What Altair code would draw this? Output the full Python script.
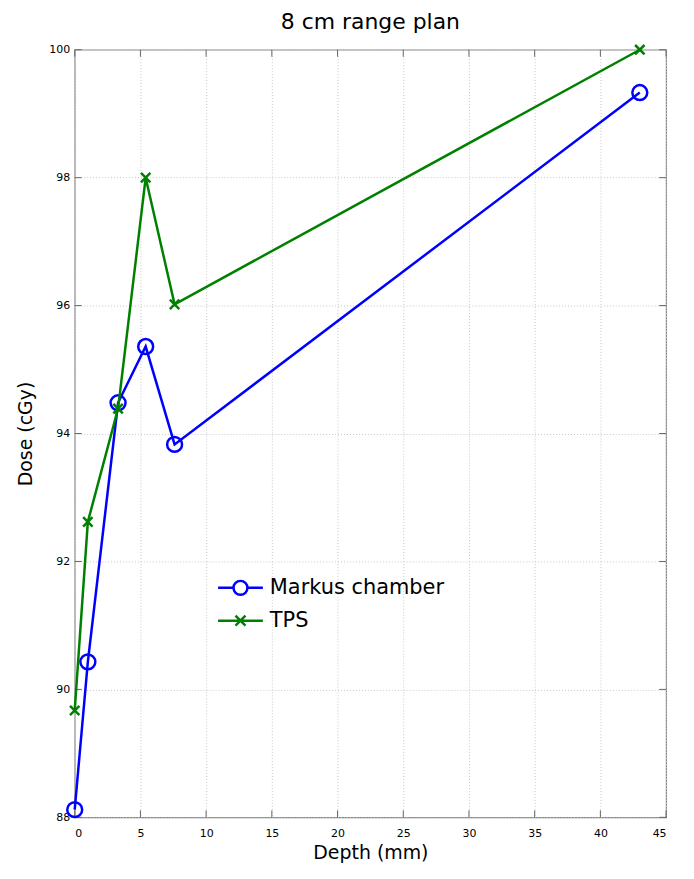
import altair as alt
import pandas as pd

# ---- data ----
series_names = ["Markus chamber", "TPS"]
depth_markus = [0.0, 1.0, 3.3, 5.4, 7.6, 43.0]
dose_markus = [88.12, 90.43, 94.48, 95.36, 93.83, 99.33]
depth_tps = [0.0, 1.0, 3.3, 5.4, 7.6, 43.0]
dose_tps = [89.67, 92.62, 94.39, 98.0, 96.02, 100.0]
x_ticks = [0, 5, 10, 15, 20, 25, 30, 35, 40, 45]
y_ticks = [88, 90, 92, 94, 96, 98, 100]
colors = ["#0000ff", "#008000"]

W, H = 594, 771
FONT = "DejaVu Sans"

df = pd.DataFrame({
    "series": [series_names[0]] * len(depth_markus) + [series_names[1]] * len(depth_tps),
    "depth": depth_markus + depth_tps,
    "dose": dose_markus + dose_tps,
})
xt = pd.DataFrame({"t": x_ticks})
yt = pd.DataFrame({"t": y_ticks})

xscale = alt.Scale(domain=[0, 45], nice=False, zero=False)
yscale = alt.Scale(domain=[88, 100], nice=False, zero=False)

X = alt.X("depth:Q", scale=xscale, title="Depth (mm)",
          axis=alt.Axis(values=x_ticks, format="d", grid=True, gridColor="#c8c8c8", gridDash=[1, 2],
                        domain=False, ticks=False, labelPadding=10, labelFontSize=11,
                        titleFontSize=19, titleFontWeight="normal", titlePadding=5,
                        labelColor="#000", titleColor="#000"))
Y = alt.Y("dose:Q", scale=yscale, title="Dose (cGy)",
          axis=alt.Axis(values=y_ticks, format="d", grid=True, gridColor="#c8c8c8", gridDash=[1, 2],
                        domain=False, ticks=False, labelPadding=5, labelFontSize=11,
                        titleFontSize=19, titleFontWeight="normal", titlePadding=13,
                        labelColor="#000", titleColor="#000"))

base = alt.Chart(df)

def series_layers(name, color, shape, size):
    d = base.transform_filter(alt.datum.series == name)
    line = d.mark_line(color=color, strokeWidth=2.5).encode(x=X, y=Y)
    pts = d.mark_point(color=color, shape=shape, size=size, filled=False,
                       strokeWidth=2.5, opacity=1).encode(x=X, y=Y)
    return line + pts

XPATH = "M-1,-1L1,1M-1,1L1,-1"
layer_m = series_layers(series_names[0], colors[0], "circle", 225)
layer_t = series_layers(series_names[1], colors[1], XPATH, 90)

# inward tick marks
tick_len = 7
TICK_COLOR = "#666"
xticks_b = alt.Chart(xt).mark_rule(color=TICK_COLOR, strokeWidth=1).encode(
    x=alt.X("t:Q", scale=xscale), y=alt.value(H), y2=alt.value(H - tick_len))
xticks_t = alt.Chart(xt).mark_rule(color=TICK_COLOR, strokeWidth=1).encode(
    x=alt.X("t:Q", scale=xscale), y=alt.value(0), y2=alt.value(tick_len))
yticks_l = alt.Chart(yt).mark_rule(color=TICK_COLOR, strokeWidth=1).encode(
    y=alt.Y("t:Q", scale=yscale), x=alt.value(0), x2=alt.value(tick_len))
yticks_r = alt.Chart(yt).mark_rule(color=TICK_COLOR, strokeWidth=1).encode(
    y=alt.Y("t:Q", scale=yscale), x=alt.value(W), x2=alt.value(W - tick_len))

# legend-only layer (no visible marks): line + marker symbols
LEG_CIRCLE = "M-2.25,0L-0.7,0M0.7,0L2.25,0M-0.7,0A0.7,0.7 0 1,0 0.7,0A0.7,0.7 0 1,0 -0.7,0"
LEG_X = "M-2.25,0L2.25,0M-0.5,-0.5L0.5,0.5M-0.5,0.5L0.5,-0.5"
leg = dict(title=None, orient="none", legendX=155, legendY=529,
           labelFontSize=21, labelFont=FONT, labelColor="#000", labelLimit=400,
           labelOffset=18, rowPadding=9, symbolSize=400,
           symbolStrokeWidth=2.5, symbolOpacity=1)
legend_layer = base.transform_filter("datum.depth < -1").mark_point(
    filled=False, size=400, strokeWidth=2.5).encode(
    color=alt.Color("series:N", scale=alt.Scale(domain=series_names, range=colors),
                    legend=alt.Legend(**leg)),
    shape=alt.Shape("series:N", scale=alt.Scale(domain=series_names, range=[LEG_CIRCLE, LEG_X]),
                    legend=alt.Legend(**leg)),
)

chart = alt.layer(
    xticks_b, xticks_t, yticks_l, yticks_r, layer_m, layer_t, legend_layer
).properties(
    width=W, height=H,
    title=alt.TitleParams("8 cm range plan", fontSize=22, fontWeight="normal",
                          font=FONT, color="#000", offset=6),
    autosize=alt.AutoSizeParams(type="none"),
    padding={"left": 67, "top": 40, "right": 20, "bottom": 52},
).configure(font=FONT).configure_view(stroke="#888", strokeWidth=1.2)

chart.save("out.html", embed_options={"renderer": "svg", "actions": False})
